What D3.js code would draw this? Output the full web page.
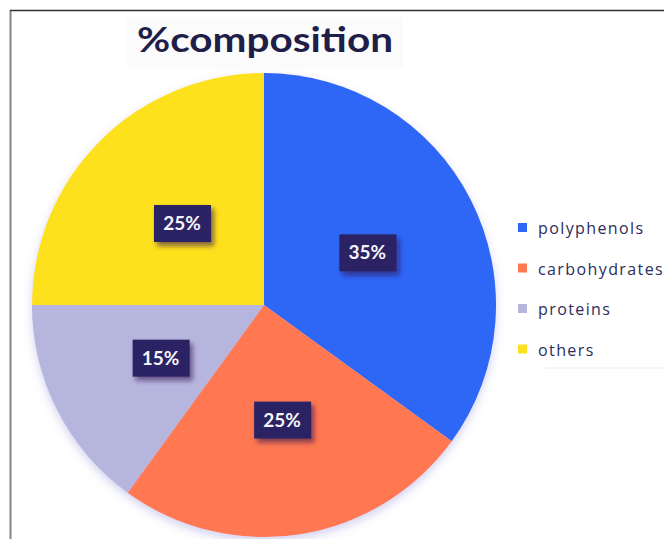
<!DOCTYPE html>
<html>
<head>
<meta charset="utf-8">
<script src="https://cdn.jsdelivr.net/npm/d3@7"></script>
<style>
  body { margin: 0; background: #fff; }
</style>
</head>
<body>
<div id="chart"></div>
<script>
// chart data
var categories = ["polyphenols", "carbohydrates", "proteins", "others"];
var shares = [35, 25, 15, 25];
var sliceLabels = ["35%", "25%", "15%", "25%"];
var sliceColors = ["#2f66f6", "#ff7851", "#b5b5dd", "#fde11f"];

var svgWidth = 664;
var svgHeight = 539;

var svg = d3.select("#chart")
    .append("svg")
    .attr("width", svgWidth)
    .attr("height", svgHeight);

var defs = svg.append("defs");

// soft glow under the pie
var glow = defs.append("filter").attr("id", "glow")
    .attr("x", "-20%").attr("y", "-20%").attr("width", "140%").attr("height", "140%");
glow.append("feDropShadow")
    .attr("dx", 0).attr("dy", 4).attr("stdDeviation", 5)
    .attr("flood-color", "#9a9ae0").attr("flood-opacity", 0.45);

// shadow for label boxes
var boxShadow = defs.append("filter").attr("id", "boxShadow")
    .attr("x", "-30%").attr("y", "-30%").attr("width", "170%").attr("height", "170%");
boxShadow.append("feDropShadow")
    .attr("dx", 3).attr("dy", 4).attr("stdDeviation", 2.5)
    .attr("flood-color", "#301850").attr("flood-opacity", 0.6);

// frame lines (left and top)
svg.append("line")
    .attr("x1", 10.5).attr("x2", 10.5).attr("y1", 10).attr("y2", svgHeight)
    .attr("stroke", "#858585").attr("stroke-width", 2);
svg.append("line")
    .attr("x1", 10).attr("x2", svgWidth).attr("y1", 10.5).attr("y2", 10.5)
    .attr("stroke", "#333").attr("stroke-width", 1.5);

// title
svg.append("rect")
    .attr("x", 127).attr("y", 17).attr("width", 276).attr("height", 52)
    .attr("fill", "#fbfbfc");
svg.append("text")
    .attr("x", 137)
    .attr("y", 52)
    .attr("font-family", "Lato, 'Open Sans', sans-serif")
    .attr("font-weight", "bold")
    .attr("font-size", 35)
    .attr("fill", "#1e1e48")
    .attr("textLength", 256)
    .attr("lengthAdjust", "spacingAndGlyphs")
    .text("%composition");

// pie
var cx = 264, cy = 305, radius = 232;

var pie = d3.pie().sort(null).value(d => d);
var arc = d3.arc().innerRadius(0).outerRadius(radius);
var labelArc = d3.arc().innerRadius(0).outerRadius(radius);

var pieGroup = svg.append("g")
    .attr("transform", `translate(${cx}, ${cy})`);

var arcs = pie(shares);

pieGroup.append("g")
    .attr("filter", "url(#glow)")
    .selectAll("path")
    .data(arcs)
    .enter()
    .append("path")
    .attr("d", arc)
    .attr("fill", (d, i) => sliceColors[i]);

// value labels in dark boxes
var labelGroups = pieGroup.selectAll(".lbl")
    .data(arcs)
    .enter()
    .append("g")
    .attr("class", "lbl")
    .attr("transform", d => {
        var c = labelArc.centroid(d);
        return `translate(${c[0]}, ${c[1]})`;
    });

labelGroups.append("rect")
    .attr("x", -28).attr("y", -18)
    .attr("width", 57).attr("height", 37)
    .attr("fill", "#2a2263")
    .attr("filter", "url(#boxShadow)");

labelGroups.append("text")
    .attr("text-anchor", "middle")
    .attr("y", 7)
    .attr("font-family", "Lato, 'Open Sans', sans-serif")
    .attr("font-weight", "bold")
    .attr("font-size", 19)
    .attr("fill", "#f4f4f8")
    .text((d, i) => sliceLabels[i]);

// legend
var legend = svg.append("g")
    .attr("transform", "translate(518, 228)");

var legendRow = legend.selectAll(".row")
    .data(categories)
    .enter()
    .append("g")
    .attr("class", "row")
    .attr("transform", (d, i) => `translate(0, ${i * 40.5})`);

legendRow.append("rect")
    .attr("x", 0).attr("y", -5)
    .attr("width", 9).attr("height", 9)
    .attr("fill", (d, i) => sliceColors[i]);

legendRow.append("text")
    .attr("x", 20)
    .attr("y", 6)
    .attr("font-family", "'Open Sans', sans-serif")
    .attr("font-size", 16)
    .attr("letter-spacing", 1.4)
    .attr("fill", "#2c2c5c")
    .text(d => d);

svg.append("line")
    .attr("x1", 545).attr("x2", svgWidth).attr("y1", 368).attr("y2", 368)
    .attr("stroke", "#ececef").attr("stroke-width", 1);
</script>
</body>
</html>
